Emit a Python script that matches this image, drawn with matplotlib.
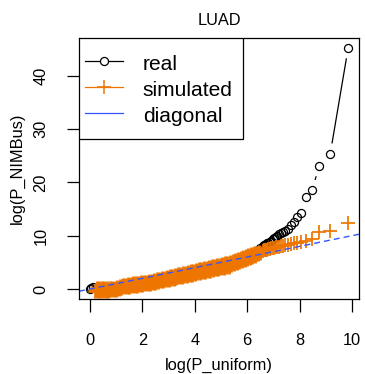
import numpy as np
import matplotlib.pyplot as plt
from matplotlib.lines import Line2D
from matplotlib.patches import Rectangle

plt.rcParams['font.family'] = ['Liberation Sans', 'DejaVu Sans']

# ---- data ----
# real (black circles)
real_x = [0.0, 0.05, 0.1, 0.25, 0.5, 0.75, 1.0, 1.25, 1.5, 1.75, 2.0, 2.25, 2.5, 2.75,
          3.0, 3.25, 3.5, 3.75, 4.0, 4.25, 4.5, 4.75, 5.0, 5.25, 5.5, 5.75, 6.0, 6.25,
          6.5, 6.60, 6.64, 6.68, 6.72, 6.77, 6.81, 6.86, 6.92, 6.97, 7.03, 7.09, 7.15,
          7.22, 7.30, 7.38, 7.46, 7.56, 7.66, 7.78, 7.91, 8.07, 8.25, 8.47, 8.76, 9.17, 9.86]
real_y = [0.0, 0.2, 0.3, 0.0, 0.0, 0.0, 0.2, 0.5, 0.7, 0.85, 1.05, 1.2, 1.5, 1.75,
          2.05, 2.3, 2.6, 2.85, 3.15, 3.45, 3.7, 4.0, 4.3, 4.6, 5.1, 5.6, 6.1, 6.8,
          7.6, 8.0, 8.2, 8.3, 8.4, 8.6, 8.7, 8.9, 9.1, 9.3, 9.6, 9.8, 10.0,
          10.3, 10.5, 10.7, 10.9, 11.2, 12.0, 12.6, 13.6, 14.3, 17.2, 18.5, 23.1, 25.3, 45.3]

# simulated (orange +): dense body, three runs (lower edge, upper edge, middle)
sim_x = [0.2, 0.3, 0.4, 0.5, 0.6, 0.7, 0.8, 0.9, 1.0, 1.1, 1.2, 1.3, 1.4, 1.5, 1.6, 1.7,
         1.8, 1.9, 2.0, 2.1, 2.2, 2.3, 2.4, 2.5, 2.6, 2.7, 2.8, 2.9, 3.0, 3.1, 3.2, 3.3,
         3.4, 3.5, 3.6, 3.7, 3.8, 3.9, 4.0, 4.1, 4.2, 4.3, 4.4, 4.5, 4.6, 4.7, 4.8, 4.9,
         5.0, 5.1, 5.2, 5.3, 5.4, 5.5, 5.6, 5.7, 5.8, 5.9, 6.0, 6.1, 6.2, 6.3, 6.4, 6.5]
sim_y = [-0.3, -0.3, -0.3, -0.3, -0.3, -0.3, -0.2, -0.2, -0.1, 0.0, 0.2, 0.3, 0.37, 0.44,
         0.51, 0.58, 0.65, 0.72, 0.79, 0.86, 0.93, 1.0, 1.11, 1.21, 1.32, 1.43, 1.53, 1.64,
         1.75, 1.85, 1.96, 2.07, 2.17, 2.28, 2.39, 2.49, 2.6, 2.71, 2.81, 2.92, 3.03, 3.13,
         3.24, 3.35, 3.45, 3.56, 3.67, 3.77, 3.88, 3.99, 4.09, 4.2, 4.41, 4.62, 4.82, 5.03,
         5.24, 5.45, 5.66, 5.87, 6.08, 6.28, 6.49, 6.7]

sim2_x = [0.25, 0.35, 0.45, 0.55, 0.65, 0.75, 0.85, 0.95, 1.05, 1.15, 1.25, 1.35, 1.45,
          1.55, 1.65, 1.75, 1.85, 1.95, 2.05, 2.15, 2.25, 2.35, 2.45, 2.55, 2.65, 2.75,
          2.85, 2.95, 3.05, 3.15, 3.25, 3.35, 3.45, 3.55, 3.65, 3.75, 3.85, 3.95, 4.05,
          4.15, 4.25, 4.35, 4.45, 4.55, 4.65, 4.75, 4.85, 4.95, 5.05, 5.15, 5.25, 5.35,
          5.45, 5.55, 5.65, 5.75, 5.85, 5.95, 6.05, 6.15, 6.25, 6.35, 6.45]
sim2_y = [0.1, 0.1, 0.1, 0.1, 0.1, 0.1, 0.15, 0.2, 0.3, 0.55, 0.75, 0.84, 0.91,
          0.98, 1.05, 1.12, 1.19, 1.26, 1.33, 1.4, 1.47, 1.56, 1.68, 1.79, 1.91, 2.03,
          2.14, 2.26, 2.38, 2.49, 2.61, 2.73, 2.84, 2.96, 3.08, 3.19, 3.31, 3.43, 3.54,
          3.66, 3.78, 3.89, 4.01, 4.13, 4.24, 4.36, 4.48, 4.59, 4.71, 4.83, 4.94, 5.09,
          5.27, 5.44, 5.62, 5.79, 5.97, 6.14, 6.32, 6.49, 6.67, 6.84, 7.02]

sim3_x = [0.23, 0.33, 0.43, 0.53, 0.63, 0.73, 0.83, 0.93, 1.03, 1.13, 1.23, 1.33, 1.43,
          1.53, 1.63, 1.73, 1.83, 1.93, 2.03, 2.13, 2.23, 2.33, 2.43, 2.53, 2.63, 2.73,
          2.83, 2.93, 3.03, 3.13, 3.23, 3.33, 3.43, 3.53, 3.63, 3.73, 3.83, 3.93, 4.03,
          4.13, 4.23, 4.33, 4.43, 4.53, 4.63, 4.73, 4.83, 4.93, 5.03, 5.13, 5.23, 5.33,
          5.43, 5.53, 5.63, 5.73, 5.83, 5.93, 6.03, 6.13, 6.23, 6.33, 6.43]
sim3_y = [-0.1, -0.1, -0.1, -0.1, -0.1, -0.1, -0.03, 0.0, 0.1, 0.28, 0.47, 0.57, 0.64,
          0.71, 0.78, 0.85, 0.92, 0.99, 1.06, 1.13, 1.2, 1.28, 1.39, 1.5, 1.61, 1.73,
          1.84, 1.95, 2.06, 2.17, 2.29, 2.4, 2.51, 2.62, 2.73, 2.84, 2.96, 3.07, 3.18,
          3.29, 3.4, 3.51, 3.63, 3.74, 3.85, 3.96, 4.07, 4.19, 4.3, 4.41, 4.52, 4.65,
          4.85, 5.03, 5.22, 5.41, 5.6, 5.79, 5.98, 6.17, 6.36, 6.55, 6.74]

# simulated tail (sparse + markers)
sim_tail_x = [6.60, 6.64, 6.68, 6.72, 6.77, 6.81, 6.86, 6.92, 6.97, 7.03, 7.09, 7.15, 7.22,
              7.30, 7.38, 7.46, 7.56, 7.66, 7.78, 7.91, 8.07, 8.25, 8.47, 8.76, 9.17, 9.86]
sim_tail_y = [7.2, 7.25, 7.3, 7.35, 7.4, 7.45, 7.5, 7.6, 7.65, 7.7, 7.8, 7.9, 7.95,
              8.0, 8.1, 8.2, 8.3, 8.4, 8.6, 8.7, 8.8, 9.0, 9.3, 10.75, 10.9, 12.4]

x_ticks = [0, 2, 4, 6, 8, 10]
y_ticks = [0, 10, 20, 30, 40]

ORANGE = '#EE7600'
BLUE = '#3355FF'

fig = plt.figure(figsize=(3.65, 3.74), dpi=100)
ax = fig.add_axes([0.2164, 0.2005, 0.7671, 0.6979])
ax.set_xlim(-0.42, 10.27)
ax.set_ylim(-1.88, 47.1)

# real: points, plus R type="b" style segments with gaps around points
ax.plot(real_x, real_y, ls='none', marker='o', ms=5.8, mfc='none', mec='black', mew=0.9)
pts = ax.transData.transform(np.column_stack([real_x, real_y]))
inv = ax.transData.inverted()
gap = 11.5
for p, q in zip(pts[:-1], pts[1:]):
    d = q - p
    dist = np.hypot(d[0], d[1])
    if dist > 2 * gap:
        u = d / dist
        a, b = inv.transform([p + gap * u, q - gap * u])
        ax.plot([a[0], b[0]], [a[1], b[1]], color='black', lw=0.9)

# dense body: overlapping markers merge into a solid band
for xs, ys in [(sim_x, sim_y), (sim2_x, sim2_y), (sim3_x, sim3_y)]:
    ax.plot(xs, ys, ls='none', marker='+', ms=10, mec=ORANGE, mew=2.0)
ax.plot(sim_tail_x, sim_tail_y, ls='none', marker='+', ms=9.4, mec=ORANGE, mew=1.25)

ax.axline((0, 0), slope=1, color=BLUE, lw=1.0, dashes=(4.3, 2.9))

ax.set_xticks(x_ticks)
ax.set_yticks(y_ticks)
ax.set_yticklabels([str(v) for v in y_ticks], rotation=90, va='center')
ax.tick_params(axis='both', length=9, width=0.9, labelsize=11.8)
ax.tick_params(axis='x', pad=15.5)
ax.tick_params(axis='y', pad=13)
for s in ax.spines.values():
    s.set_linewidth(0.9)

ax.set_xlabel('log(P_uniform)', fontsize=11.8)
ax.xaxis.set_label_coords(0.5, -0.225)
ax.set_ylabel('log(P_NIMBus)', fontsize=11.8)
ax.yaxis.set_label_coords(-0.193, 0.5)
ax.set_title('LUAD', fontsize=11.8, pad=9)

# legend: R-style box drawn separately, entries placed inside it
ax.add_patch(Rectangle((0, 0.613), 0.586, 0.387, transform=ax.transAxes,
                       facecolor='white', edgecolor='black', lw=0.9, zorder=4))
handles = [
    Line2D([], [], color='black', lw=0.9, marker='o', ms=5.8, mfc='white', mec='black', mew=0.9),
    Line2D([], [], color=ORANGE, lw=0.9, marker='+', ms=9.4, mec=ORANGE, mew=1.1),
    Line2D([], [], color=BLUE, lw=0.9),
]
leg = ax.legend(handles, ['real', 'simulated', 'diagonal'], loc='upper left',
                bbox_to_anchor=(0, 0.968), borderaxespad=0, fontsize=15.1,
                frameon=False, handlelength=1.8, handletextpad=0.95,
                borderpad=0.29, handleheight=1.2, labelspacing=0.19)
leg.set_zorder(5)

fig.savefig('out.png', dpi=100)
